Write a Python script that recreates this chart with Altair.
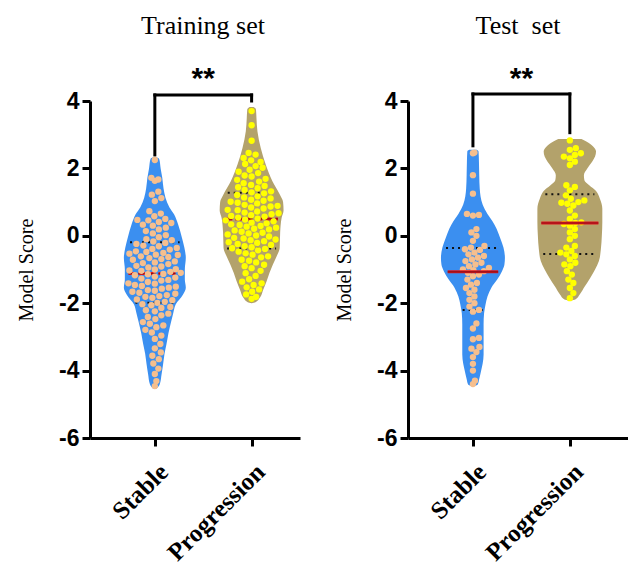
import altair as alt
import pandas as pd

# ---------------- data ----------------
categories = ["Stable", "Progression"]
panel_titles = ["Training set", "Test\u00a0 set"]

train_stable = [2.25, 1.72, 1.67, 1.63, 1.31, 1.22, 1.12, 1.03, 0.73, 0.66, 0.58,
                0.5, 0.47, 0.46, 0.41, 0.38, 0.33, 0.3, 0.24, 0.19, 0.14, 0.07, 0.02,
                -0.04, -0.1, -0.13, -0.17, -0.21, -0.24, -0.29, -0.31, -0.36, -0.39, -0.41, -0.46, -0.48, -0.51,
                -0.53, -0.56, -0.57, -0.61, -0.63, -0.66, -0.69, -0.71, -0.76, -0.79, -0.81, -0.84, -0.89, -0.91, -0.94, -0.99,
                -1.0, -1.03, -1.04, -1.07, -1.1, -1.13, -1.14, -1.17, -1.21, -1.24, -1.27, -1.31, -1.33, -1.37, -1.41, -1.42, -1.46, -1.49,
                -1.51, -1.54, -1.57, -1.61, -1.63, -1.66, -1.69, -1.72, -1.76, -1.79, -1.81, -1.84, -1.89, -1.91, -1.96, -1.99,
                -2.03, -2.06, -2.11, -2.14, -2.21, -2.24, -2.31, -2.36, -2.41, -2.47,
                -2.56, -2.61, -2.66, -2.71, -2.79, -2.87, -2.96,
                -3.06, -3.21, -3.34, -3.46,
                -3.56, -3.66, -3.79, -3.94,
                -4.1, -4.31, -4.46]

train_progression = [3.7, 3.28, 2.82,
                     2.46, 2.41, 2.31, 2.24, 2.19, 2.13, 2.07, 2.02,
                     1.96, 1.9, 1.86, 1.79, 1.76, 1.69, 1.66, 1.61, 1.56, 1.51,
                     1.48, 1.44, 1.41, 1.36, 1.32, 1.29, 1.26, 1.21, 1.17, 1.14, 1.11, 1.07, 1.04, 1.01,
                     0.98, 0.96, 0.92, 0.89, 0.87, 0.84, 0.81, 0.77, 0.76, 0.72, 0.69, 0.67, 0.64, 0.61, 0.59, 0.57, 0.54, 0.51,
                     0.48, 0.46, 0.43, 0.39, 0.37, 0.34, 0.32, 0.29, 0.27, 0.24, 0.21, 0.19, 0.16, 0.12, 0.09, 0.07, 0.04, 0.01,
                     -0.02, -0.06, -0.08, -0.11, -0.13, -0.16, -0.19, -0.21, -0.24, -0.27, -0.31, -0.34, -0.37, -0.39, -0.43, -0.47,
                     -0.52, -0.56, -0.61, -0.64, -0.71, -0.74, -0.79, -0.86, -0.9, -0.96,
                     -1.04, -1.11, -1.19, -1.29, -1.36, -1.41, -1.46,
                     -1.53, -1.59, -1.66, -1.74, -1.81, -1.87]

test_stable = [2.47, 2.45, 1.8, 1.25, 0.65, 0.62, 0.6, 0.2, 0.1, 0.0,
               -0.15, -0.3, -0.35, -0.4, -0.42, -0.5, -0.55, -0.6, -0.65, -0.7,
               -0.75, -0.8, -0.85, -0.9, -0.95, -1.0, -1.02, -1.05, -1.1, -1.15,
               -1.2, -1.3, -1.4, -1.45, -1.55, -1.6, -1.7, -1.8, -1.9, -2.0,
               -2.1, -2.2, -2.25, -2.6, -2.75, -3.03, -3.07, -3.3, -3.35, -3.45,
               -3.6, -3.8, -4.0, -4.3, -4.4]

test_progression = [2.83, 2.6, 2.55, 2.45, 2.4, 2.35, 2.3, 2.2, 2.1,
                    1.5, 1.45, 1.35, 1.2, 1.1, 1.05, 1.0, 0.98, 0.95, 0.9,
                    0.75, 0.6, 0.5, 0.4, 0.38, 0.35, 0.3, 0.2, 0.1, 0.0, -0.1,
                    -0.3, -0.35, -0.45, -0.5, -0.55, -0.6, -0.7, -0.8, -0.85, -0.9,
                    -1.05, -1.15, -1.3, -1.4, -1.55, -1.7, -1.85]

# violin outlines: score level and half-width (in category units)
train_stable_outline_y = [2.33, 2.28, 2.0, 1.72, 1.4, 1.13, 0.85, 0.63, 0.34, -0.06, -0.35, -0.65, -1.0, -1.3,
                          -1.54, -1.75, -2.04, -2.3, -2.53, -2.9, -3.22, -3.5, -3.82, -4.1, -4.41, -4.53]
train_stable_outline_w = [0.02, 0.045, 0.06, 0.077, 0.09, 0.11, 0.15, 0.2, 0.24, 0.28, 0.305, 0.32, 0.31, 0.31,
                          0.32, 0.29, 0.215, 0.19, 0.17, 0.14, 0.12, 0.10, 0.085, 0.07, 0.05, 0.02]
train_prog_outline_y = [3.82, 3.75, 3.5, 3.1, 2.6, 2.12, 1.62, 1.23, 1.0, 0.75, 0.53, 0.1, -0.36, -0.6, -0.85,
                        -1.1, -1.35, -1.6, -1.84, -1.97, -2.0]
train_prog_outline_w = [0.02, 0.045, 0.05, 0.06, 0.095, 0.145, 0.215, 0.29, 0.325, 0.33, 0.31, 0.295, 0.29, 0.26,
                        0.22, 0.185, 0.155, 0.12, 0.085, 0.04, 0.0]
test_stable_outline_y = [2.55, 2.5, 2.2, 1.8, 1.4, 0.93, 0.65, 0.44, 0.2, -0.06, -0.35, -0.65, -0.85, -1.05, -1.3,
                         -1.54, -1.8, -2.04, -2.3, -2.63, -3.0, -3.52, -3.8, -4.0, -4.25, -4.41, -4.47]
test_stable_outline_w = [0.04, 0.058, 0.062, 0.065, 0.07, 0.10, 0.15, 0.2, 0.245, 0.28, 0.315, 0.33, 0.325, 0.30,
                         0.25, 0.19, 0.15, 0.13, 0.115, 0.11, 0.11, 0.11, 0.10, 0.085, 0.065, 0.05, 0.0]
test_prog_outline_y = [2.87, 2.8, 2.65, 2.5, 2.35, 2.2, 2.0, 1.8, 1.65, 1.5, 1.33, 1.1, 0.8, 0.4, 0.0, -0.4, -0.75,
                       -1.0, -1.25, -1.5, -1.75, -1.88, -1.93]
test_prog_outline_w = [0.12, 0.17, 0.24, 0.27, 0.26, 0.23, 0.18, 0.145, 0.15, 0.2, 0.27, 0.31, 0.335, 0.335, 0.33,
                       0.32, 0.30, 0.26, 0.21, 0.155, 0.10, 0.06, 0.0]

# median, upper quartile, lower quartile (Stable, Progression)
train_median = [-1.12, 0.5]
train_q3 = [-0.19, 1.28]
train_q1 = [-1.99, -0.38]
test_median = [-1.07, 0.38]
test_q3 = [-0.36, 1.23]
test_q1 = [-2.2, -0.54]

# significance bracket: top, left leg end, right leg end; label
bracket_top = [4.18, 4.21]
bracket_left_end = [2.4, 2.67]
bracket_right_end = [4.0, 3.06]
star_level = [4.66, 4.66]
sig_label = "**"

# ---------------- styling ----------------
violin_colors = ["#3b8ff0", "#b3a26b"]
point_colors = ["#f6bf8e", "#ffff00"]
Y_PX = 33.7  # px per score unit
X_PX = 97.0  # px per category unit
PLOT_H = 337
DOT_R = 3.3


def interp(y, ys, ws):
    pts = sorted(zip(ys, ws))
    if y <= pts[0][0]:
        return pts[0][1]
    for (y0, w0), (y1, w1) in zip(pts, pts[1:]):
        if y0 <= y <= y1:
            return w0 + (w1 - w0) * (y - y0) / (y1 - y0)
    return pts[-1][1]


def swarm(values, center, d, outline):
    """deterministic beeswarm offsets (pixels), kept inside the violin"""
    order = sorted(range(len(values)), key=lambda i: values[i])
    placed = []
    xs = [0.0] * len(values)
    step = 0.5
    for i in order:
        yp = values[i] * Y_PX
        lim = max(0.0, interp(values[i], *outline) * X_PX - DOT_R - 0.5)
        n = int(lim / step)
        cands = [0.0]
        for k in range(1, n + 1):
            cands += [k * step, -k * step]
        found = None
        best, best_c = -1, 0.0
        for c in cands:
            md = min([((c - px) ** 2 + (yp - py) ** 2) for px, py in placed] or [1e9])
            if md >= d * d:
                found = c
                break
            if md > best + 1e-9:
                best, best_c = md, c
        if found is None:
            found = best_c
        placed.append((found, yp))
        xs[i] = center + found / X_PX
    return xs


def panel(idx, title, groups, outlines, med, q3, q1, dashed, xmax, width, d, title_dx):
    xscale = alt.Scale(domain=[0.33, xmax], nice=False, zero=False)
    yscale = alt.Scale(domain=[-6, 4], nice=False, zero=False)
    label_expr = "datum.value == 1 ? '%s' : '%s'" % (categories[0], categories[1])
    xaxis = alt.Axis(values=[1, 2], labelExpr=label_expr, title=None, labelAngle=-45,
                     labelFont="Liberation Serif", labelFontWeight="bold", labelFontSize=25,
                     labelAlign="right", labelBaseline="top", labelPadding=13, grid=False)
    yaxis = alt.Axis(values=[-6, -4, -2, 0, 2, 4], labelExpr="toString(datum.value)", title="Model Score",
                     labelFont="Liberation Sans", labelFontWeight="bold", labelFontSize=23,
                     titleFont="Liberation Serif", titleFontWeight="normal", titleFontSize=20,
                     titlePadding=22, labelPadding=3, grid=False)

    def X(f):
        return alt.X(f, type="quantitative", scale=xscale, axis=xaxis, stack=None)

    def Y(f):
        return alt.Y(f, type="quantitative", scale=yscale, axis=yaxis, stack=None)

    layers = []
    for g in range(2):
        c = g + 1
        oy, ow = outlines[g]
        vdf = pd.DataFrame({"y": oy, "x": [c - w for w in ow], "x2": [c + w for w in ow]})
        layers.append(alt.Chart(vdf).mark_area(orient="horizontal", interpolate="monotone",
                                               color=violin_colors[g], opacity=1)
                      .encode(y=Y("y"), x=X("x"), x2="x2"))
    point_layers = []
    for g in range(2):
        c = g + 1
        vals = groups[g]
        pdf = pd.DataFrame({"y": vals, "x": swarm(vals, c, d, outlines[g])})
        point_layers.append(alt.Chart(pdf).mark_circle(size=40, opacity=1, color=point_colors[g])
                            .encode(x=X("x"), y=Y("y")))
    med_rows, q_rows = [], []
    for g in range(2):
        c = g + 1
        for v, lst in ((med[g], med_rows), (q3[g], q_rows), (q1[g], q_rows)):
            hw = interp(v, *outlines[g]) * 0.88
            lst.append({"x": c - hw, "x2": c + hw, "y": v})
    mdf = pd.DataFrame(med_rows)
    qdf = pd.DataFrame(q_rows)
    dash = [7, 3] if dashed else [1, 0]
    med_outer = alt.Chart(mdf).mark_rule(color="#e3191c", strokeWidth=3, strokeDash=dash).encode(
        x=X("x"), x2="x2", y=Y("y"))
    med_inner = alt.Chart(mdf).mark_rule(color="#8a0e1a", strokeWidth=1.2, strokeDash=dash).encode(
        x=X("x"), x2="x2", y=Y("y"))
    qlines = alt.Chart(qdf).mark_rule(color="#111111", strokeWidth=2, strokeDash=[2, 4]).encode(
        x=X("x"), x2="x2", y=Y("y"))

    bdf = pd.DataFrame({
        "x": [1, 1, 2],
        "x2": [1, 2, 2],
        "y": [bracket_left_end[idx], bracket_top[idx], bracket_top[idx]],
        "y2": [bracket_top[idx], bracket_top[idx], bracket_right_end[idx]],
    })
    bracket = alt.Chart(bdf).mark_rule(color="black", strokeWidth=3, strokeCap="square").encode(
        x=X("x"), x2="x2", y=Y("y"), y2="y2")
    sdf = pd.DataFrame({"x": [1.5], "y": [star_level[idx]], "t": [sig_label]})
    stars = alt.Chart(sdf).mark_text(font="Liberation Sans", fontSize=30, fontWeight="bold",
                                     baseline="middle", align="center", color="black").encode(
        x=X("x"), y=Y("y"), text="t:N")

    if dashed:
        stack = layers + [qlines, med_outer, med_inner] + point_layers + [bracket, stars]
    else:
        stack = layers + [qlines] + point_layers + [med_outer, med_inner, bracket, stars]
    return alt.layer(*stack).properties(
        width=width, height=PLOT_H,
        title=alt.TitleParams(title, font="Liberation Serif", fontSize=26, fontWeight="normal",
                              color="black", anchor="middle", frame="group", dx=title_dx, offset=25))


left = panel(0, panel_titles[0], [train_stable, train_progression],
             [(train_stable_outline_y, train_stable_outline_w), (train_prog_outline_y, train_prog_outline_w)],
             train_median, train_q3, train_q1, True, 2.5, 210, 7.0, 8)
right = panel(1, panel_titles[1], [test_stable, test_progression],
              [(test_stable_outline_y, test_stable_outline_w), (test_prog_outline_y, test_prog_outline_w)],
              test_median, test_q3, test_q1, False, 2.6, 220, 6.0, 0)

chart = alt.hconcat(left, right, spacing=34).properties(padding={"left": 8, "top": 4, "right": 0, "bottom": 0}) \
    .configure_view(stroke=None) \
    .configure_axis(domainColor="black", domainWidth=3, tickColor="black", tickWidth=3, tickSize=8,
                    labelColor="black", titleColor="black")

chart.save("out.html", embed_options={"renderer": "svg", "actions": False})
